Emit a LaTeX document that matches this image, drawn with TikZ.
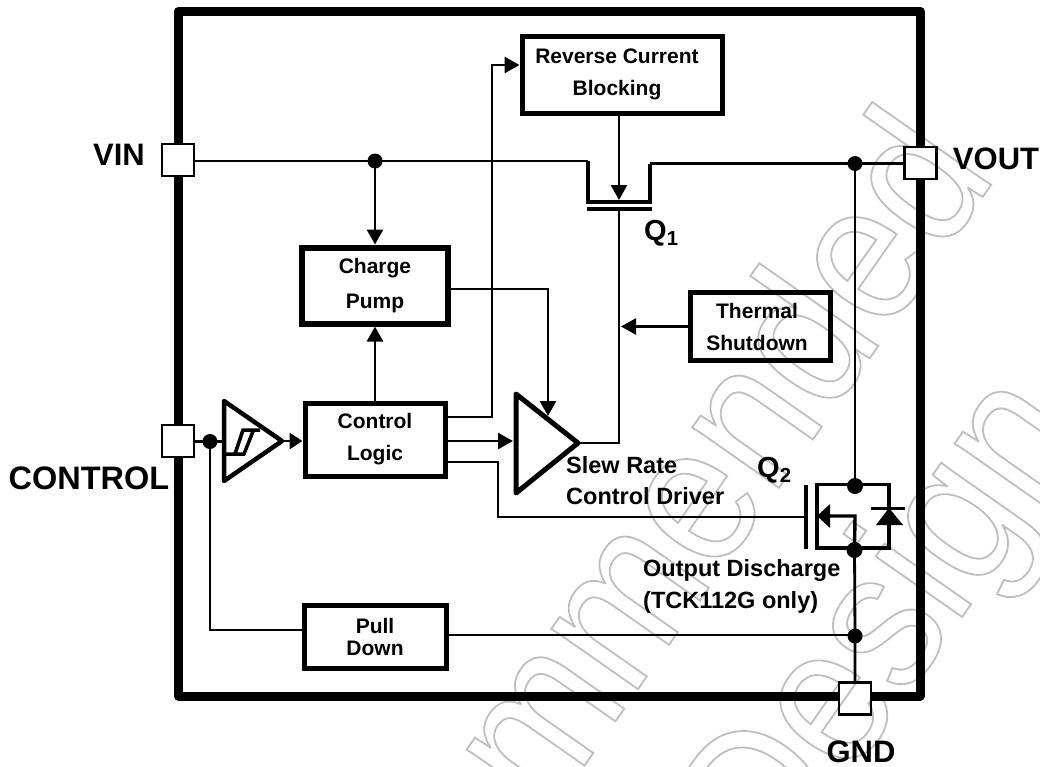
\documentclass[tikz,border=0pt]{standalone}
\usepackage{fontspec}
\setmainfont{Liberation Sans}
\newfontfamily\markfont[FakeStretch=0.885]{Liberation Sans}
\usetikzlibrary{arrows.meta, calc}
\tikzset{
    wire/.style={line width=2.8pt},
    feed/.style={wire, -{Triangle[length=15pt,width=16pt]}},
    box/.style={draw, line width=5pt, align=center, inner sep=0pt, font=\fontsize{21}{32}\selectfont\bfseries},
    pad/.style={draw, line width=2.6pt, minimum size=32pt, inner sep=0pt},
    dot/.style={circle, fill, inner sep=0pt, minimum size=15pt},
    pin/.style={inner sep=0pt, font=\fontsize{31}{34}\selectfont\bfseries},
    caption/.style={inner sep=0pt, anchor=west, font=\fontsize{23.5}{32}\selectfont\bfseries},
    subcap/.style={caption, font=\fontsize{29}{30}\selectfont\bfseries},
    shade/.style={inner sep=0pt, anchor=base east, rotate=55, font=\fontsize{200}{200}\selectfont\markfont}
}
% Text outlined instead of filled
\newcommand{\ghost}[1]{\special{pdf:code q 1 Tr 1.8 w 0.75 G}#1\special{pdf:code Q}}
\begin{document}
\begin{tikzpicture}[x=1pt, y=-1pt]
    \useasboundingbox (0,0) rectangle (1040,766);
    % Watermark
    \node[shade] (mark1) at (998,175) {\ghost{Recommended}};
    \node[shade] (mark2) at (1091,433) {\ghost{Design}};
    % Pads
    \node[pad] (vin) at (178,160) {};
    \node[pad] (ctl) at (178,441) {};
    \node[pad] (vout) at (920.5,163) {};
    \node[pad] (gnd) at (855,698.5) {};
    % Package outline
    \coordinate (tl) at (178.5,11);
    \coordinate (tr) at (920,11);
    \coordinate (bl) at (178.5,696);
    \coordinate (br) at (920,696);
    \draw[line width=9pt, line join=round]
        (ctl.south -| bl) -- (bl) -- (bl -| gnd.west)
        (br -| gnd.east) -- (br) -- (br |- vout.south)
        (tr |- vout.north) -- (tr) -- (tl) -- (tl |- vin.north)
        (tl |- vin.south) -- (tl |- ctl.north);
    % Blocks
    \node[box, minimum width=200pt, minimum height=77pt] (rcb) at (622,74.5) {Reverse Current\hspace*{10pt}\\Blocking\hspace*{10pt}};
    \node[box, line width=6pt, minimum width=146pt, minimum height=76pt, font=\fontsize{21}{35}\selectfont\bfseries] (pump) at (375,285.5) {Charge\\Pump};
    \node[box, minimum width=140pt, minimum height=73pt] (logic) at (375,439.5) {Control\\Logic};
    \node[box, minimum width=142pt, minimum height=63pt, font=\fontsize{21}{22}\selectfont\bfseries] (pull) at (375,636.5) {Pull\\Down};
    \node[box, minimum width=140pt, minimum height=68pt] (therm) at (760,326.5) {Thermal\hspace*{6pt}\\Shutdown\hspace*{6pt}};
    % Junctions
    \node[dot] (in) at (375,161) {};
    \node[dot] (out) at (855,163.5) {};
    \node[dot, minimum size=16pt] (drain) at (855,486) {};
    \node[dot, minimum size=16pt] (source) at (854.5,550) {};
    \node[dot, minimum size=15pt] (ret) at (855,636) {};
    \node[dot] (sense) at (210,441.5) {};
    % Schmitt buffer
    \coordinate (sa) at (224,401);
    \coordinate (sb) at (282,441);
    \coordinate (sc) at (224,481);
    \draw[line width=4.5pt, line join=round] (sa) -- (sb) -- (sc) -- cycle;
    \draw[line width=3.5pt] (226,454) -- (244,454) -- (253.5,430);
    \draw[line width=3.5pt] (260,430) -- (243,430) -- (235,454);
    % Driver
    \coordinate (da) at (516,394);
    \coordinate (db) at (578,443);
    \coordinate (dc) at (516,493);
    \draw[line width=5pt, line join=round] (da) -- (db) -- (dc) -- cycle;
    % Q1
    \coordinate (q1a) at (588,161);
    \coordinate (q1b) at (588,202);
    \coordinate (q1c) at (650,202);
    \coordinate (q1d) at (650,163.5);
    \coordinate (q1g) at (619,209);
    \draw[wire] (vin.east |- in) -- (in.center) -- (q1a);
    \draw[line width=3.4pt, line join=miter] (q1a) -- (q1b) -- (q1c) -- (q1d);
    \draw[wire] (q1d) -- (out.center) -- (vout.west |- out);
    \draw[line width=3.8pt] (587,209) -- (652,209);
    \draw[feed] (rcb.south -| q1g) -- (619,200);
    \draw[wire] (db) -- (db -| q1g) -- (q1g);
    \draw[feed] (therm.west) -- (621,326.5);
    % Left side
    \draw[wire] (ctl.east |- sense) -- (sense.center) -- (sense.center -| sa);
    \draw[wire] (sense.center) |- (pull.west |- 0,630);
    \draw[wire, -{Triangle[length=13pt,width=16pt]}] (sb) -- (logic.west |- sb);
    \draw[feed] (in.center) -- (pump.north);
    \draw[feed] (logic.north) -- (pump.south);
    \draw[feed] (pump.east |- 0,289) -- (548,289) -- (548,416);
    \draw[feed] (logic.east |- 0,417) -- (492,417) -- (492,65) -- (rcb.west |- 0,65);
    \draw[feed] (logic.east |- 0,441) -- (513,441);
    \draw[wire] (logic.east |- 0,462) -- (498,462) -- (498,517) -- (806,517);
    % Q2
    \coordinate (q2a) at (817,484.5);
    \coordinate (q2b) at (889,484.5);
    \coordinate (q2c) at (889,548);
    \coordinate (q2d) at (817,548);
    \draw[line width=3.4pt, line join=miter] (q2a) -- (q2b) -- (q2c) -- (q2d) -- cycle;
    \draw[line width=3.4pt] (806,485) -- (806,549);
    \draw[line width=3.4pt, -{Triangle[length=13pt,width=23pt]}, line join=miter] (source.center) -- (855,516) -- (817,516);
    \fill (889,508) -- (903,525) -- (876,525) -- cycle;
    \draw[line width=3pt] (871,508) -- (905,508);
    % Right side
    \draw[wire] (out.center) -- (drain.center);
    \draw[wire] (source.center) -- (ret.center) -- (gnd.north -| ret);
    \draw[wire] (pull.east |- 0,635) -- (ret.center |- 0,635);
    % Labels
    \node[pin] (vinl) at (119,155) {VIN};
    \node[pin] (voutl) at (996,159) {VOUT};
    \node[pin, font=\fontsize{32.5}{34}\selectfont\bfseries] (ctll) at (89,478) {CONTROL};
    \node[pin] (gndl) at (861,752) {GND};
    \node[subcap] (q1l) at (644,233) {Q\textsubscript{1}};
    \node[subcap] (q2l) at (757,470) {Q\textsubscript{2}};
    \node[caption] (slew1) at (566,465) {Slew Rate};
    \node[caption] (slew2) at (566,496) {Control Driver};
    \node[caption] (dis1) at (643,570) {Output Discharge};
    \node[caption] (dis2) at (643,602) {(TCK112G only)};
\end{tikzpicture}
\end{document}
